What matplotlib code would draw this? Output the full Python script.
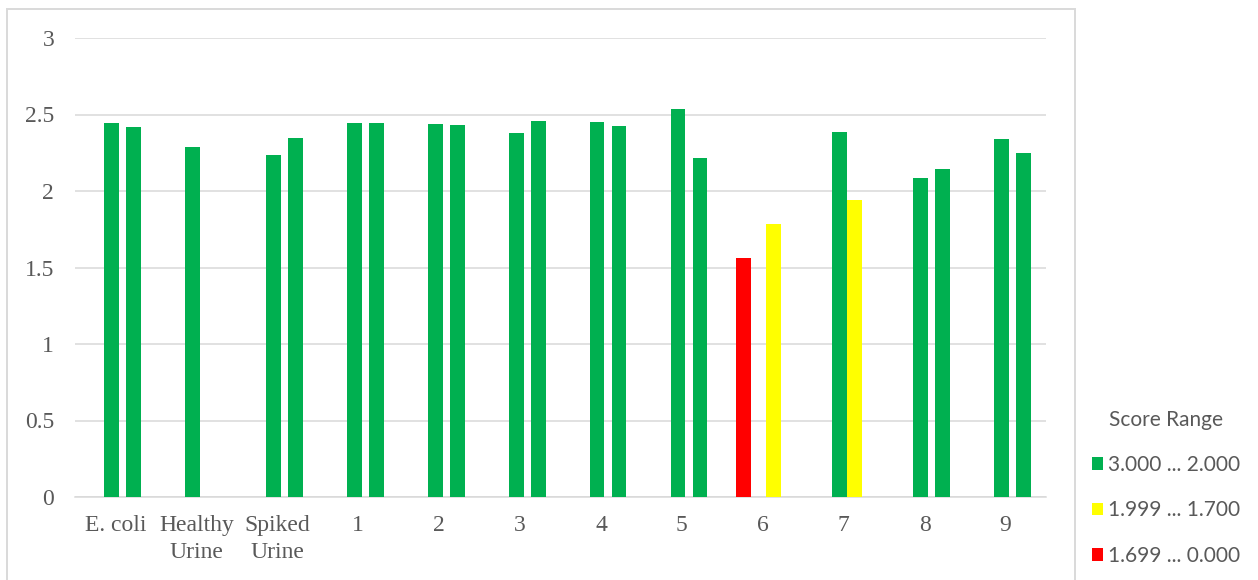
import numpy as np
import matplotlib
matplotlib.use("Agg")
import matplotlib.pyplot as plt
from matplotlib.patches import Patch, Rectangle

nan = np.nan
categories = ["E. coli", "Healthy\nUrine", "Spiked\nUrine", "1", "2", "3", "4", "5", "6", "7", "8", "9"]
green_first = [2.442, 2.287, 2.234, 2.442, 2.436, 2.377, 2.449, 2.539, nan, 2.387, 2.082, 2.339]
green_second = [2.418, nan, 2.345, 2.442, 2.431, 2.458, 2.425, 2.213, nan, nan, 2.145, 2.248]
yellow_second = [nan, nan, nan, nan, nan, nan, nan, nan, 1.784, 1.941, nan, nan]
red_first = [nan, nan, nan, nan, nan, nan, nan, nan, 1.560, nan, nan, nan]
legend_labels = ["3.000 ... 2.000", "1.999 ... 1.700", "1.699 ... 0.000"]
legend_title = "Score Range"
y_ticks = [0, 0.5, 1, 1.5, 2, 2.5, 3]

GREEN, YELLOW, RED = "#00B050", "#FFFF00", "#FF0000"
GRID = "#D9D9D9"
TXT = "#595959"

W, H = 1258, 580
fig = plt.figure(figsize=(W / 100, H / 100), dpi=100)
ax = fig.add_axes([75 / W, 1 - 497 / H, (1046 - 75) / W, (497 - 38) / H])

x = np.arange(len(categories))
bw = 0.182
series = [
    (red_first, -0.237, RED),
    (green_first, -0.048, GREEN),
    (yellow_second, 0.131, YELLOW),
    (green_second, 0.224, GREEN),
]
for vals, off, col in series:
    v = np.array(vals, dtype=float)
    m = ~np.isnan(v)
    ax.bar(x[m] + off, v[m], width=bw, color=col, zorder=3, linewidth=0)

ax.set_xlim(-0.5, len(categories) - 0.5)
ax.set_ylim(0, 3)
ax.set_yticks(y_ticks)
ax.set_yticklabels(["%g" % t for t in y_ticks])
ax.set_xticks(x)
ax.set_xticklabels(categories, linespacing=1.4)
ax.grid(axis="y", color=GRID, linewidth=1.1, zorder=0)
ax.set_axisbelow(True)
for s in ["top", "right", "left"]:
    ax.spines[s].set_visible(False)
ax.spines["bottom"].set_color(GRID)
ax.spines["bottom"].set_linewidth(1.1)
ax.tick_params(axis="both", length=0, colors=TXT)
ax.tick_params(axis="y", pad=15)
ax.tick_params(axis="x", pad=13)
for lab in ax.get_xticklabels() + ax.get_yticklabels():
    lab.set_fontfamily("Liberation Serif")
    lab.set_fontsize(17)
    lab.set_color(TXT)

# chart frame
fig.patches.append(Rectangle((7 / W, -0.05), (1075 - 7) / W, 1 - 9 / H + 0.05,
                             transform=fig.transFigure, fill=False,
                             edgecolor=GRID, linewidth=1.4))

handles = [Patch(facecolor=c, edgecolor="none") for c in (GREEN, YELLOW, RED)]
leg = fig.legend(handles, legend_labels, title=legend_title,
                 loc="center", bbox_to_anchor=(1166 / W, 1 - 488 / H),
                 frameon=False, prop={"family": "Lato", "size": 15},
                 title_fontproperties={"family": "Lato", "size": 15},
                 handlelength=0.55, handleheight=0.55, handletextpad=0.25,
                 labelspacing=1.22, borderpad=0)
for t in leg.get_texts():
    t.set_color(TXT)
leg.get_title().set_color(TXT)
leg._legend_box.sep = 18

fig.savefig("out.png", dpi=100)
